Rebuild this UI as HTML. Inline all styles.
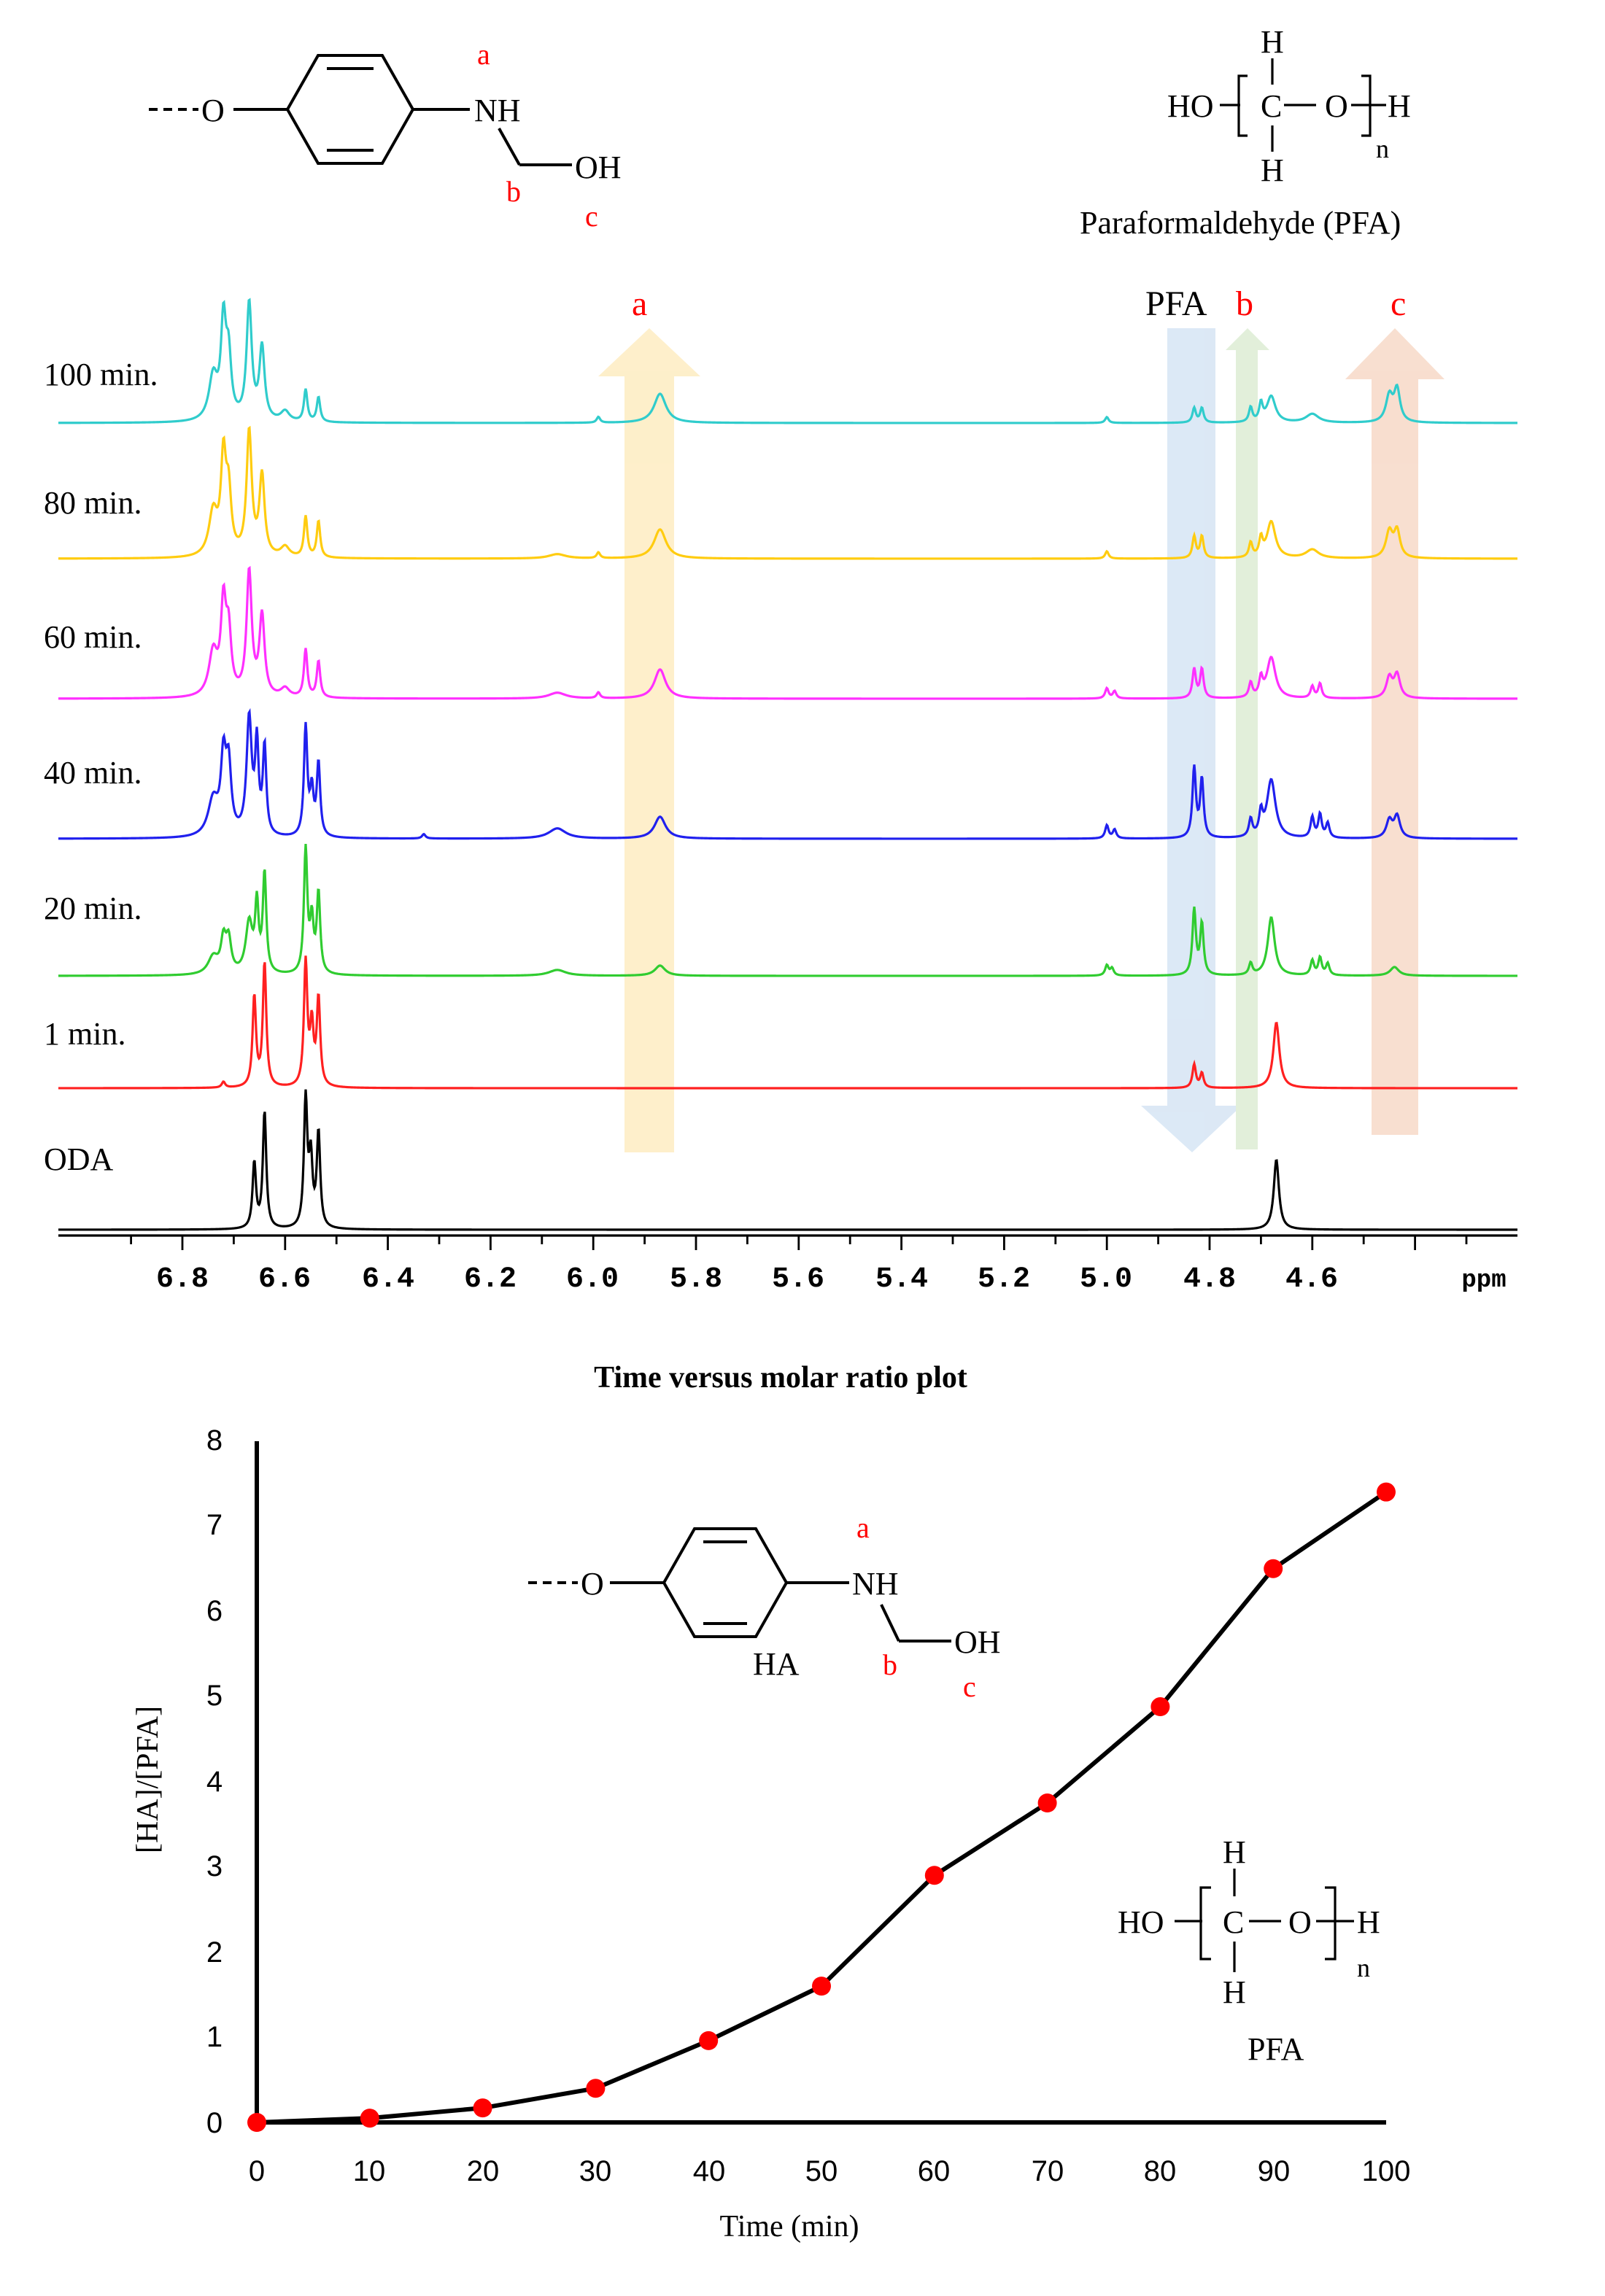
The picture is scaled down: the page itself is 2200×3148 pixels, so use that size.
<!DOCTYPE html>
<html><head><meta charset="utf-8"><style>
html,body{margin:0;padding:0;background:#fff;width:2200px;height:3148px;overflow:hidden}
svg{display:block}
text{font-family:"Liberation Serif",serif}
text.m{font-family:"Liberation Mono",monospace;font-weight:bold}
text.s{font-family:"Liberation Sans",sans-serif}
</style></head><body>
<svg id="s" width="2200" height="3148" viewBox="0 0 1100 1574" xmlns="http://www.w3.org/2000/svg">
<g stroke="#000" stroke-width="2" fill="none">
<line x1="102" y1="75" x2="136" y2="75" stroke-dasharray="6,4"/>
<line x1="160" y1="75" x2="197" y2="75"/>
<polygon points="197,75 218,38 262,38 283,75 262,112 218,112"/>
<line x1="224" y1="47" x2="256" y2="47"/><line x1="224" y1="103" x2="256" y2="103"/>
<line x1="283" y1="75" x2="322" y2="75"/>
<line x1="342" y1="88" x2="356" y2="113"/><line x1="356" y1="113" x2="392" y2="113"/>
</g>
<g font-size="22">
<text x="138" y="83">O</text><text x="325" y="83">NH</text><text x="394" y="122">OH</text>
<text x="327" y="44" fill="red" font-size="20">a</text><text x="347" y="138" fill="red" font-size="20">b</text><text x="401" y="155" fill="red" font-size="20">c</text>
</g>
<g font-size="22">
<text x="800" y="80">HO</text><text x="864" y="80">C</text><text x="908" y="80">O</text><text x="951" y="80">H</text>
<text x="864" y="36">H</text><text x="864" y="124">H</text><text x="943" y="108" font-size="18">n</text>
<text x="740" y="160">Paraformaldehyde (PFA)</text>
</g>
<g stroke="#000" stroke-width="1.6" fill="none">
<line x1="872" y1="40" x2="872" y2="58"/><line x1="872" y1="86" x2="872" y2="104"/>
<line x1="836" y1="72" x2="850" y2="72"/><line x1="880" y1="72" x2="902" y2="72"/><line x1="926" y1="72" x2="950" y2="72"/>
<polyline points="855,52 849,52 849,93 855,93"/><polyline points="933,52 939,52 939,93 933,93"/>
</g>
<g opacity="0.6">
<rect x="428" y="255" width="34" height="535" fill="#fde5a8"/><polygon points="410,258 445,225 480,258" fill="#fde5a8"/>
<rect x="800" y="225" width="33" height="535" fill="#c5daf0"/><polygon points="782,758 817,790 851,758" fill="#c5daf0"/>
<rect x="847" y="238" width="15" height="550" fill="#cfe6c2"/><polygon points="840,240 855,225 870,240" fill="#cfe6c2"/>
<rect x="940" y="258" width="32" height="520" fill="#f4c9b0"/><polygon points="922,260 956,225 990,260" fill="#f4c9b0"/>
</g>
<g font-size="24">
<text x="433" y="216" fill="red">a</text><text x="785" y="216">PFA</text><text x="847" y="216" fill="red">b</text><text x="953" y="216" fill="red">c</text>
</g>
<g font-size="22">
<text x="30" y="264">100 min.</text><text x="30" y="352">80 min.</text><text x="30" y="444">60 min.</text>
<text x="30" y="537">40 min.</text><text x="30" y="630">20 min.</text><text x="30" y="716">1 min.</text><text x="30" y="802">ODA</text>
</g>
<g id="spec" fill="none" stroke-width="1.6"></g>
<line x1="40" y1="847" x2="1040" y2="847" stroke="#000" stroke-width="1.6"/>
<g id="ticks" stroke="#000" stroke-width="1.4"></g>
<g font-size="20" text-anchor="middle">
<text class="m" x="125" y="882">6.8</text><text class="m" x="195" y="882">6.6</text><text class="m" x="266" y="882">6.4</text><text class="m" x="336" y="882">6.2</text><text class="m" x="406" y="882">6.0</text><text class="m" x="477" y="882">5.8</text><text class="m" x="547" y="882">5.6</text><text class="m" x="618" y="882">5.4</text><text class="m" x="688" y="882">5.2</text><text class="m" x="758" y="882">5.0</text><text class="m" x="829" y="882">4.8</text><text class="m" x="899" y="882">4.6</text><text class="m" x="1017" y="882" font-size="17">ppm</text>
</g>
<text x="535" y="951" font-size="21" font-weight="bold" text-anchor="middle">Time versus molar ratio plot</text>
<line x1="176" y1="988" x2="176" y2="1455" stroke="#000" stroke-width="3"/>
<line x1="176" y1="1455" x2="950" y2="1455" stroke="#000" stroke-width="3"/>
<g font-size="20" text-anchor="middle">
<text class="s" x="147" y="994">8</text><text class="s" x="147" y="1052">7</text><text class="s" x="147" y="1111">6</text><text class="s" x="147" y="1169">5</text><text class="s" x="147" y="1228">4</text><text class="s" x="147" y="1286">3</text><text class="s" x="147" y="1345">2</text><text class="s" x="147" y="1403">1</text><text class="s" x="147" y="1462">0</text>
<text class="s" x="176" y="1495">0</text><text class="s" x="253" y="1495">10</text><text class="s" x="331" y="1495">20</text><text class="s" x="408" y="1495">30</text><text class="s" x="486" y="1495">40</text><text class="s" x="563" y="1495">50</text><text class="s" x="640" y="1495">60</text><text class="s" x="718" y="1495">70</text><text class="s" x="795" y="1495">80</text><text class="s" x="873" y="1495">90</text><text class="s" x="950" y="1495">100</text>
</g>
<text x="541" y="1533" font-size="21" text-anchor="middle">Time (min)</text>
<text transform="translate(108,1220) rotate(-90)" font-size="21" text-anchor="middle">[HA]/[PFA]</text>
<polyline id="curve" fill="none" stroke="#000" stroke-width="3"/>
<g id="dots" fill="red"></g>
<g stroke="#000" stroke-width="2" fill="none">
<line x1="362" y1="1085" x2="396" y2="1085" stroke-dasharray="6,4"/>
<line x1="418" y1="1085" x2="455" y2="1085"/>
<polygon points="455,1085 476,1048 518,1048 539,1085 518,1122 476,1122"/>
<line x1="482" y1="1057" x2="512" y2="1057"/><line x1="482" y1="1113" x2="512" y2="1113"/>
<line x1="539" y1="1085" x2="582" y2="1085"/>
<line x1="604" y1="1100" x2="616" y2="1125"/><line x1="616" y1="1125" x2="652" y2="1125"/>
</g>
<g font-size="22">
<text x="398" y="1093">O</text><text x="584" y="1093">NH</text><text x="654" y="1133">OH</text><text x="516" y="1148">HA</text>
<text x="587" y="1054" fill="red" font-size="20">a</text><text x="605" y="1148" fill="red" font-size="20">b</text><text x="660" y="1163" fill="red" font-size="20">c</text>
</g>
<g font-size="22">
<text x="766" y="1325">HO</text><text x="838" y="1325">C</text><text x="883" y="1325">O</text><text x="930" y="1325">H</text>
<text x="838" y="1277">H</text><text x="838" y="1373">H</text><text x="930" y="1355" font-size="18">n</text>
<text x="855" y="1412">PFA</text>
</g>
<g stroke="#000" stroke-width="1.6" fill="none">
<line x1="846" y1="1281" x2="846" y2="1300"/><line x1="846" y1="1331" x2="846" y2="1352"/>
<line x1="805" y1="1317" x2="824" y2="1317"/><line x1="856" y1="1317" x2="878" y2="1317"/><line x1="902" y1="1317" x2="928" y2="1317"/>
<polyline points="830,1294 823,1294 823,1343 830,1343"/><polyline points="908,1294 915,1294 915,1343 908,1343"/>
</g>
<script>
(function(){
var NS="http://www.w3.org/2000/svg";
function X(p){return 125+(6.8-p)*352;}
var specs=[
 {b:843,c:"#000",p:[[6.66,45,.004],[6.64,80,.004],[6.56,88,.004],[6.55,45,.004],[6.535,65,.004],[4.67,48,.006]]},
 {b:746,c:"#ff2020",p:[[6.66,62,.004],[6.64,85,.004],[6.56,85,.004],[6.548,40,.004],[6.535,60,.004],[4.83,16,.004],[4.815,10,.004],[4.67,45,.007],[6.72,4,.004]]},
 {b:669,c:"#30cc30",p:[[6.74,12,.012],[6.72,22,.006],[6.71,22,.006],[6.67,35,.008],[6.655,45,.004],[6.64,68,.004],[6.56,85,.004],[6.548,35,.004],[6.535,55,.004],[6.07,4,.02],[5.87,7,.012],[5.0,7,.004],[4.99,5,.004],[4.83,45,.004],[4.815,35,.004],[4.72,8,.004],[4.68,40,.008],[4.6,10,.004],[4.585,12,.004],[4.57,8,.004],[4.44,6,.01]]},
 {b:575,c:"#2020ee",p:[[6.74,25,.012],[6.72,50,.006],[6.71,45,.006],[6.67,80,.006],[6.655,60,.004],[6.64,60,.004],[6.56,75,.004],[6.548,30,.004],[6.535,50,.004],[6.33,3,.004],[6.07,7,.02],[5.87,15,.013],[5.0,9,.004],[4.985,6,.004],[4.83,48,.004],[4.815,40,.004],[4.72,12,.004],[4.7,15,.004],[4.68,40,.01],[4.6,14,.004],[4.585,16,.004],[4.57,10,.004],[4.45,12,.007],[4.435,15,.007]]},
 {b:479,c:"#ff30ff",p:[[6.74,30,.01],[6.72,60,.006],[6.71,40,.006],[6.67,85,.006],[6.645,55,.006],[6.6,6,.01],[6.56,33,.004],[6.535,25,.004],[6.07,4,.02],[5.99,4,.004],[5.87,20,.013],[5.0,7,.004],[4.985,5,.004],[4.83,20,.004],[4.815,20,.004],[4.72,10,.004],[4.7,12,.004],[4.68,28,.01],[4.6,8,.004],[4.585,10,.004],[4.45,14,.007],[4.435,16,.007]]},
 {b:383,c:"#ffcc10",p:[[6.74,30,.01],[6.72,65,.006],[6.71,40,.006],[6.67,85,.006],[6.645,55,.006],[6.6,7,.01],[6.56,28,.004],[6.535,25,.004],[6.07,3,.02],[5.99,4,.004],[5.87,20,.014],[5.0,5,.004],[4.83,15,.004],[4.815,15,.004],[4.72,10,.004],[4.7,12,.004],[4.68,25,.01],[4.6,6,.015],[4.45,18,.008],[4.435,18,.007]]},
 {b:290,c:"#30cccc",p:[[6.74,30,.01],[6.72,65,.006],[6.71,40,.006],[6.67,80,.006],[6.645,50,.006],[6.6,7,.01],[6.56,22,.004],[6.535,17,.004],[5.99,4,.004],[5.87,20,.014],[5.0,4,.004],[4.83,10,.004],[4.815,10,.004],[4.72,10,.004],[4.7,12,.004],[4.68,18,.01],[4.6,6,.015],[4.45,18,.008],[4.435,22,.007]]}
];
var g=document.getElementById("spec");
specs.forEach(function(s){
 var d="";
 for(var x=40;x<=1040;x+=0.5){
  var ppm=6.8-(x-125)/352,y=0;
  s.p.forEach(function(k){var u=(ppm-k[0])/k[2];y+=k[1]/(1+u*u);});
  d+=(x==40?"M":"L")+x+","+(s.b-y).toFixed(2);
 }
 var p=document.createElementNS(NS,"path");p.setAttribute("d",d);p.setAttribute("stroke",s.c);g.appendChild(p);
});
var t=document.getElementById("ticks");
for(var i=0;i<=26;i++){var ppm=6.9-i*0.1;var x=X(ppm);if(x<42||x>1040)continue;
 var l=document.createElementNS(NS,"line");l.setAttribute("x1",x);l.setAttribute("x2",x);l.setAttribute("y1",847);l.setAttribute("y2",(Math.round(ppm*10)%2==0)?857:853);t.appendChild(l);}
var data=[[0,0],[10,.05],[20,.17],[30,.4],[40,.96],[50,1.6],[60,2.9],[70,3.75],[80,4.88],[90,6.5],[100,7.4]];
var pts="",dots=document.getElementById("dots");
data.forEach(function(d){var x=176+d[0]*7.74,y=1455-d[1]*58.4;pts+=x+","+y+" ";
 var c=document.createElementNS(NS,"circle");c.setAttribute("cx",x);c.setAttribute("cy",y);c.setAttribute("r",6.5);dots.appendChild(c);});
document.getElementById("curve").setAttribute("points",pts);
})();
</script>
</svg>
</body></html>
